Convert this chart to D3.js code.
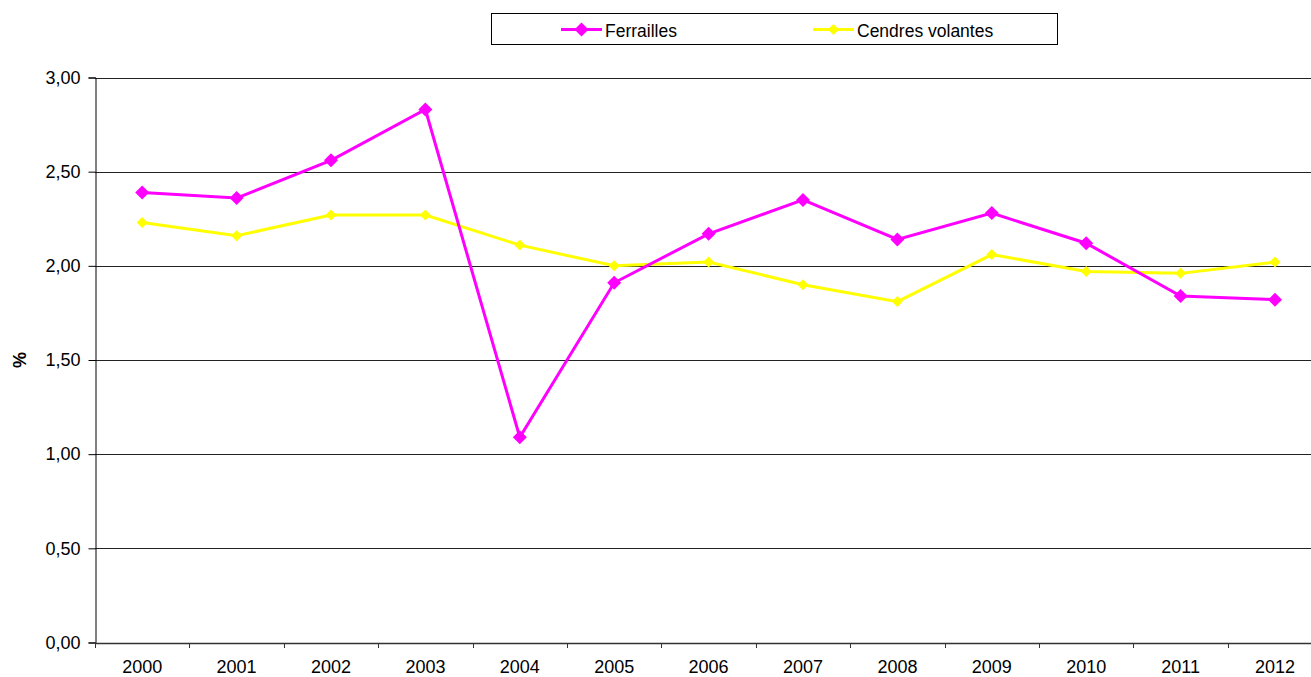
<!DOCTYPE html>
<html>
<head>
<meta charset="utf-8">
<script src="https://cdn.jsdelivr.net/npm/d3@7"></script>
<style>
  body { margin: 0; background: #fff; }
  svg { display: block; font-family: "Liberation Sans", Arial, sans-serif; }
</style>
</head>
<body>
<div id="chart"></div>
<script>
const years = ["2000","2001","2002","2003","2004","2005","2006","2007","2008","2009","2010","2011","2012"];
const ferrailles = [2.39, 2.36, 2.56, 2.83, 1.09, 1.91, 2.17, 2.35, 2.14, 2.28, 2.12, 1.84, 1.82];
const cendres = [2.23, 2.16, 2.27, 2.27, 2.11, 2.00, 2.02, 1.90, 1.81, 2.06, 1.97, 1.96, 2.02];
const yTicks = [0, 0.5, 1, 1.5, 2, 2.5, 3];

const svgWidth = 1311;
const svgHeight = 677;
const plotLeft = 95;
const plotTop = 77.5;
const plotBottom = 642.5;
const plotRight = 95 + 13 * 94.4;

const svg = d3.select("#chart").append("svg")
  .attr("width", svgWidth)
  .attr("height", svgHeight);

const xScale = d3.scaleBand().domain(years).range([plotLeft, plotRight]);
const yScale = d3.scaleLinear().domain([0, 3]).range([plotBottom, plotTop]);

const fmt = v => d3.format(".2f")(v).replace(".", ",");

// grid lines
svg.append("g")
  .selectAll("line")
  .data(yTicks.filter(d => d > 0))
  .enter()
  .append("line")
    .attr("x1", plotLeft)
    .attr("x2", svgWidth)
    .attr("y1", d => Math.round(yScale(d)) + 0.5)
    .attr("y2", d => Math.round(yScale(d)) + 0.5)
    .attr("stroke", "#222")
    .attr("stroke-width", 1);

// y axis
const yAxis = d3.axisLeft(yScale)
  .tickValues(yTicks)
  .tickFormat(fmt)
  .tickSize(7)
  .tickPadding(8);

svg.append("g")
  .attr("transform", `translate(${plotLeft + 0.5}, 0)`)
  .call(yAxis)
  .call(g => g.selectAll("text").attr("font-size", 18).attr("fill", "#000").attr("font-family", "Liberation Sans, Arial, sans-serif"))
  .call(g => g.selectAll("line, path").attr("stroke", "#000"));

// x axis
const xAxis = d3.axisBottom(xScale).tickSize(0).tickPadding(17);
const xg = svg.append("g")
  .attr("transform", `translate(0, ${Math.round(plotBottom) + 0.5})`)
  .call(xAxis);
xg.select(".domain").attr("stroke", "#333").attr("stroke-width", 1.5)
  .attr("d", `M${plotLeft},0H${svgWidth}`);
xg.selectAll("text").attr("font-size", 18).attr("fill", "#000").attr("font-family", "Liberation Sans, Arial, sans-serif");

// category separator ticks
svg.append("g")
  .selectAll("line")
  .data(years)
  .enter()
  .append("line")
    .attr("x1", d => Math.round(xScale(d)) + 0.5)
    .attr("x2", d => Math.round(xScale(d)) + 0.5)
    .attr("y1", Math.round(plotBottom))
    .attr("y2", Math.round(plotBottom) + 5)
    .attr("stroke", "#333");

// y label
svg.append("text")
  .attr("transform", `translate(26, ${(plotTop + plotBottom) / 2}) rotate(-90)`)
  .attr("text-anchor", "middle")
  .attr("font-size", 18)
  .attr("font-weight", "bold")
  .text("%");

const cx = d => xScale(d) + xScale.bandwidth() / 2;
const line = d3.line().x(d => cx(d.year)).y(d => yScale(d.value));

const series = [
  { name: "Ferrailles", values: ferrailles, color: "#ff00ff", size: 7 },
  { name: "Cendres volantes", values: cendres, color: "#ffff00", size: 5.5 }
];

const diamond = (x, y, r) => `M${x},${y - r}L${x + r},${y}L${x},${y + r}L${x - r},${y}Z`;

series.slice().reverse().forEach(s => {
  const pts = years.map((y, i) => ({ year: y, value: s.values[i] }));
  svg.append("path")
    .datum(pts)
    .attr("d", line)
    .attr("fill", "none")
    .attr("stroke", s.color)
    .attr("stroke-width", 3);
  svg.append("g")
    .selectAll("path")
    .data(pts)
    .enter()
    .append("path")
      .attr("d", d => diamond(cx(d.year), yScale(d.value), s.size))
      .attr("fill", s.color);
});

// legend
const legend = svg.append("g");
legend.append("rect")
  .attr("x", 491.5).attr("y", 13.5)
  .attr("width", 566).attr("height", 31)
  .attr("fill", "#fff").attr("stroke", "#000");

const legendItems = [
  { s: series[0], x: 561 },
  { s: series[1], x: 813 }
];
legendItems.forEach(({ s, x }) => {
  legend.append("line")
    .attr("x1", x).attr("x2", x + 41)
    .attr("y1", 29.5).attr("y2", 29.5)
    .attr("stroke", s.color).attr("stroke-width", 3);
  legend.append("path")
    .attr("d", diamond(x + 20.5, 29.5, s.size))
    .attr("fill", s.color);
  legend.append("text")
    .attr("x", x + 44).attr("y", 36.5)
    .attr("font-size", 17.5)
    .text(s.name);
});
</script>
</body>
</html>
